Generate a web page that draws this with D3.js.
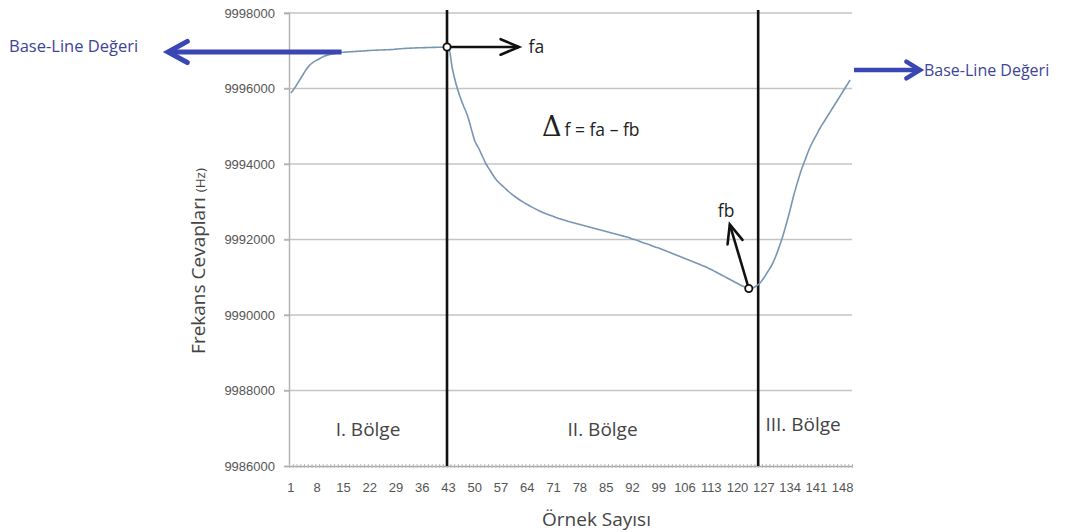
<!DOCTYPE html>
<html><head><meta charset="utf-8">
<script src="https://cdn.jsdelivr.net/npm/d3@7"></script>
<style>
html,body{margin:0;padding:0;background:#fff;}
svg{display:block;}
</style></head>
<body>
<svg id="c" width="1077" height="532"></svg>
<script>
// ---- data ----
const samples = d3.range(1, 151);
const frequency = [
9995880,9996010,9996170,9996330,9996490,9996620,9996700,9996755,9996810,9996861,
9996890,9996914,9996935,9996954,9996960,9996967,9996974,9996980,9996987,9996993,
9997000,9997007,9997012,9997016,9997020,9997024,9997028,9997033,9997042,9997051,
9997060,9997065,9997070,9997074,9997078,9997080,9997083,9997086,9997089,9997092,
9997094,9997097,9997100,9996543,9996119,9995801,9995536,9995298,9994954,9994609,
9994424,9994212,9994000,9993841,9993682,9993550,9993457,9993364,9993272,9993192,
9993113,9993046,9992985,9992927,9992871,9992818,9992768,9992723,9992681,9992641,
9992607,9992572,9992540,9992509,9992477,9992450,9992424,9992397,9992371,9992344,
9992318,9992291,9992265,9992238,9992212,9992185,9992159,9992132,9992106,9992080,
9992053,9992013,9991987,9991947,9991907,9991881,9991841,9991801,9991775,9991735,
9991695,9991656,9991616,9991576,9991536,9991497,9991457,9991417,9991377,9991338,
9991298,9991252,9991205,9991152,9991099,9991046,9990993,9990940,9990887,9990834,
9990781,9990742,9990702,9990715,9990768,9990848,9990980,9991139,9991298,9991510,
9991775,9992066,9992411,9992781,9993179,9993523,9993841,9994106,9994371,9994583,
9994768,9994954,9995113,9995271,9995430,9995589,9995748,9995907,9996066,9996225];
const xTickLabels = [1,8,15,22,29,36,43,50,57,64,71,78,85,92,99,106,113,120,127,134,141,148];
const yTickValues = [9986000,9988000,9990000,9992000,9994000,9996000,9998000];
const regionBounds = [42.6, 125.5];
const regionLabels = ["I. Bölge","II. Bölge","III. Bölge"];
const faSample = 43, fbSample = 123;
const xTitle = "Örnek Sayısı";
const yTitle = "Frekans Cevapları";
const yUnit = "(Hz)";
const baseLineLabel = "Base-Line Değeri";

// ---- layout ----
const svg = d3.select("#c");
const mLeft = 289, mRight = 852, mTop = 13, mBottom = 466;
const x = d3.scaleLinear().domain([0.5, 150.5]).range([mLeft, mRight]);
const y = d3.scaleLinear().domain([9986000, 9998000]).range([mBottom, mTop]);

// gridlines
svg.append("g").selectAll("line").data(yTickValues.slice(1)).join("line")
  .attr("x1", mLeft - 5).attr("x2", mRight)
  .attr("y1", d => y(d)).attr("y2", d => y(d))
  .attr("stroke", "#c4c4c4").attr("stroke-width", 1.4);

// y axis
const yAxis = svg.append("g").attr("transform", `translate(${mLeft},0)`)
  .call(d3.axisLeft(y).tickValues(yTickValues).tickFormat(d3.format("d")).tickSize(5).tickPadding(9));
yAxis.select(".domain").attr("stroke", "#b0b0b0").attr("stroke-width", 1.4);
yAxis.selectAll(".tick line").attr("stroke", "#b0b0b0").attr("stroke-width", 1.4);
yAxis.selectAll("text").attr("font-family", "'Liberation Sans Narrow','Liberation Sans',sans-serif")
  .attr("font-size", 13).attr("fill", "#555");

// x axis with category ticks
const xAxis = svg.append("g").attr("transform", `translate(0,${mBottom})`)
  .call(d3.axisBottom(x).tickValues(d3.range(0.5, 151, 1)).tickFormat("").tickSize(4).tickSizeOuter(0));
xAxis.select(".domain").attr("stroke", "#a8a8a8").attr("stroke-width", 1.4);
xAxis.selectAll(".tick line").attr("stroke", "#b8b8b8").attr("stroke-width", 1).attr("y1", -2).attr("y2", 2);
svg.append("g").selectAll("text").data(xTickLabels).join("text")
  .attr("x", d => x(d)).attr("y", 492).attr("text-anchor", "middle")
  .attr("font-family", "'Liberation Sans Narrow','Liberation Sans',sans-serif")
  .attr("font-size", 13).attr("fill", "#555").text(d => d);

// region boundary lines
svg.append("g").selectAll("line").data(regionBounds).join("line")
  .attr("x1", d => x(d)).attr("x2", d => x(d)).attr("y1", 10).attr("y2", mBottom)
  .attr("stroke", "#111").attr("stroke-width", 2.6);

// curve
svg.append("path").datum(samples.map((s, i) => [s, frequency[i]]))
  .attr("fill", "none").attr("stroke", "#7896b3").attr("stroke-width", 1.6)
  .attr("d", d3.line().x(d => x(d[0])).y(d => y(d[1])).curve(d3.curveMonotoneX));

// region labels
const regionCenters = [(0.5 + regionBounds[0]) / 2, (regionBounds[0] + regionBounds[1]) / 2, (regionBounds[1] + 150.5) / 2];
svg.append("g").selectAll("text").data(regionLabels).join("text")
  .attr("x", (d, i) => x(regionCenters[i]) + (i === 2 ? -2 : 0))
  .attr("y", (d, i) => i === 2 ? 431 : 436)
  .attr("text-anchor", "middle").attr("font-family", "'Open Sans',sans-serif")
  .attr("font-size", 19).attr("fill", "#444").text(d => d);

// arrows helper
function arrow(g, x1, y1, x2, y2, color, w, arm, ang) {
  g.append("line").attr("x1", x1).attr("y1", y1).attr("x2", x2).attr("y2", y2)
    .attr("stroke", color).attr("stroke-width", w);
  const a = Math.atan2(y2 - y1, x2 - x1);
  const p = [
    [x2 - arm * Math.cos(a - ang), y2 - arm * Math.sin(a - ang)],
    [x2, y2],
    [x2 - arm * Math.cos(a + ang), y2 - arm * Math.sin(a + ang)]];
  g.append("path").attr("d", d3.line()(p)).attr("fill", "none")
    .attr("stroke", color).attr("stroke-width", w).attr("stroke-linejoin", "miter").attr("stroke-linecap", "round");
}
const ann = svg.append("g");
const fa = frequency[faSample - 1], fb = frequency[fbSample - 1];
arrow(ann, x(faSample - 0.4), y(fa), x(faSample - 0.4) + 72, y(fa), "#111", 2.6, 20, 0.4);
arrow(ann, x(fbSample), y(fb), x(fbSample) - 19, y(fb) - 64, "#111", 2.6, 20, 0.4);
ann.append("text").attr("x", x(faSample) + 80).attr("y", y(fa) + 6)
  .attr("font-family", "'Open Sans',sans-serif").attr("font-size", 17.5).attr("fill", "#222").text("fa");
ann.append("text").attr("x", x(fbSample) - 31).attr("y", y(fb) - 71)
  .attr("font-family", "'Open Sans',sans-serif").attr("font-size", 17.5).attr("fill", "#222").text("fb");
ann.selectAll("circle.pt").data([[faSample - 0.4, fa], [fbSample, fb]]).join("circle")
  .attr("cx", d => x(d[0])).attr("cy", d => y(d[1])).attr("r", 3.6)
  .attr("fill", "#fff").attr("stroke", "#111").attr("stroke-width", 1.8);

// delta formula
const df = ann.append("text").attr("x", 542).attr("y", 136).attr("fill", "#222")
  .attr("font-family", "'Open Sans',sans-serif");
df.append("tspan").attr("font-size", 27).attr("font-family", "'DejaVu Serif',serif").text("Δ");
df.append("tspan").attr("font-size", 17.5).attr("dx", 3).text("f = fa – fb");

// base-line arrows
const blue = "#3a46b4";
const bl = svg.append("g");
arrow(bl, x(14.5), y(fa) + 5, 168, y(fa) + 5, blue, 5, 22, 0.5);
bl.append("text").attr("x", 9).attr("y", y(fa) + 5).attr("font-family", "'Open Sans',sans-serif")
  .attr("font-size", 16.5).attr("fill", "#3d4499").text(baseLineLabel);
arrow(bl, mRight + 2, y(frequency[149]) - 10, 920, y(frequency[149]) - 10, blue, 4.5, 16, 0.55);
bl.append("text").attr("x", 924).attr("y", y(frequency[149]) - 4).attr("font-family", "'Open Sans',sans-serif")
  .attr("font-size", 16).attr("fill", "#3d4499").text(baseLineLabel);

// axis titles
svg.append("text").attr("x", x(75.5) + 26).attr("y", 526).attr("text-anchor", "middle")
  .attr("font-family", "'Open Sans',sans-serif").attr("font-size", 19).attr("fill", "#444").text(xTitle);
const yt = svg.append("text").attr("transform", "translate(205,261) rotate(-90)").attr("text-anchor", "middle")
  .attr("font-family", "'Open Sans',sans-serif").attr("fill", "#444");
yt.append("tspan").attr("font-size", 19).text(yTitle + " ");
yt.append("tspan").attr("font-size", 13.5).text(yUnit);
</script>
</body></html>
